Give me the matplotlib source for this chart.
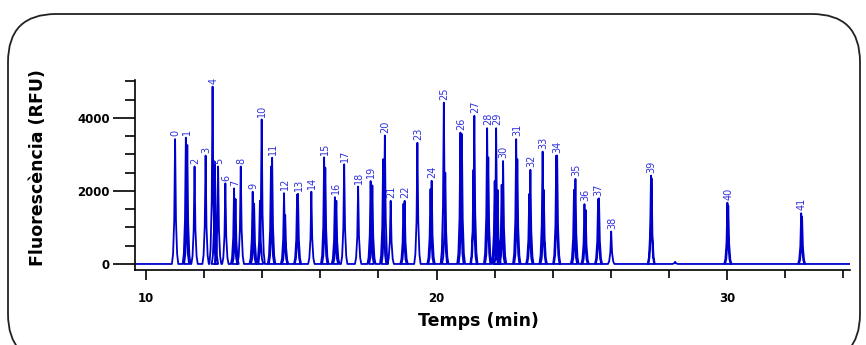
import numpy as np
import matplotlib
matplotlib.use("Agg")
import matplotlib.pyplot as plt
from matplotlib.patches import FancyBboxPatch
from matplotlib.ticker import MultipleLocator

# labelled peaks: retention time (min) and height (RFU)
peak_labels = [str(i) for i in range(42)]
peak_times = [11.00, 11.37, 11.67, 12.05, 12.29, 12.48, 12.73, 13.03, 13.26, 13.67,
              13.98, 14.34, 14.75, 15.23, 15.69, 16.13, 16.50, 16.82, 17.30, 17.73,
              18.22, 18.42, 18.90, 19.34, 19.83, 20.25, 20.82, 21.30, 21.74, 22.05,
              22.29, 22.74, 23.23, 23.65, 24.12, 24.78, 25.09, 25.56, 26.01, 27.38,
              30.01, 32.55]
peak_heights = [3420, 3460, 2670, 2970, 4860, 2670, 2210, 2070, 2670, 1980,
                3960, 2910, 1940, 1920, 1980, 2920, 1830, 2730, 2120, 2270,
                3520, 1730, 1730, 3320, 2280, 4420, 3600, 4060, 3720, 3720,
                2820, 3420, 2580, 3080, 2970, 2330, 1640, 1780, 890, 2420,
                1680, 1390]

# unlabelled shoulders / secondary peaks
shoulder_times = [11.42, 12.37, 13.08, 13.72, 13.92, 14.30, 14.79, 15.20, 16.17, 16.55,
                  17.79, 18.16, 18.86, 19.79, 20.30, 20.87, 21.27, 21.78, 22.00, 22.10,
                  22.24, 22.78, 23.19, 23.69, 24.15, 24.73, 25.13, 25.59, 27.40, 28.21,
                  30.04, 32.58]
shoulder_heights = [3260, 2800, 1780, 1650, 1730, 2670, 1340, 1900, 2640, 1730,
                    2150, 2870, 1650, 2050, 2500, 3560, 2580, 2920, 2270, 2030,
                    2170, 2870, 1920, 2030, 2970, 2030, 1480, 1800, 2350, 60,
                    1600, 1300]

# shape of one peak on the trace (style)
prof_dx = [-0.11, -0.07, -0.03, 0.0, 0.03, 0.07, 0.11]
prof_fr = [0.0, 0.08, 0.35, 1.0, 0.35, 0.08, 0.0]

all_t = peak_times + shoulder_times
all_h = peak_heights + shoulder_heights
order = np.argsort(all_t)
tx = [9.66]
ty = [0.0]
for i in order:
    for dx, fr in zip(prof_dx, prof_fr):
        tx.append(all_t[i] + dx)
        ty.append(all_h[i] * fr)
tx.append(34.2)
ty.append(0.0)

blue = "#0000cc"

fig = plt.figure(figsize=(8.66, 3.45), dpi=100)
ax = fig.add_axes([135 / 866, 1 - 270 / 345, 715 / 866, 190 / 345])
ax.plot(tx, ty, color=blue, lw=1.3)

for lab, t, h in zip(peak_labels, peak_times, peak_heights):
    ax.annotate(lab, (t, h), xytext=(0.5, 2), textcoords="offset points",
                rotation=90, ha="center", va="bottom", fontsize=7, color="#3030dd")

ax.set_xlim(9.62, 34.23)
ax.set_ylim(-165, 5040)
ax.xaxis.set_major_locator(MultipleLocator(10))
ax.xaxis.set_minor_locator(MultipleLocator(2))
ax.yaxis.set_major_locator(MultipleLocator(2000))
ax.yaxis.set_minor_locator(MultipleLocator(500))
ax.spines["top"].set_visible(False)
ax.spines["right"].set_visible(False)
ax.tick_params(axis="x", which="major", length=7, width=1.2, pad=9, labelsize=8.5)
ax.tick_params(axis="x", which="minor", length=6, width=1.2)
ax.tick_params(axis="y", which="major", length=16, width=1.2, pad=2, labelsize=8.5)
ax.tick_params(axis="y", which="minor", length=7, width=1.2)
for lab in ax.get_xticklabels() + ax.get_yticklabels():
    lab.set_fontweight("bold")
for s in ["left", "bottom"]:
    ax.spines[s].set_linewidth(1.2)

ax.set_xlabel("Temps (min)", fontsize=12.5, fontweight="bold")
ax.set_ylabel("Fluorescència (RFU)", fontsize=12.5, fontweight="bold")
ax.xaxis.set_label_coords(0.48, -0.22)
ax.yaxis.set_label_coords(-0.123, 0.54)

# rounded frame round the whole figure (pixel coords)
frame = FancyBboxPatch((8, -17), 852, 348, boxstyle="round,pad=0,rounding_size=48",
                       transform=None, fill=False, edgecolor="#222222", lw=1.3)
fig.patches.append(frame)

fig.savefig("out.png", dpi=100)
